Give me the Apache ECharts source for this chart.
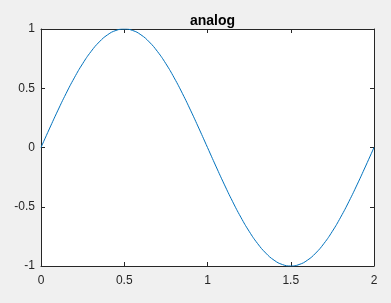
<!DOCTYPE html>
<html>
<head>
<meta charset="utf-8">
<script src="https://cdn.jsdelivr.net/npm/echarts@6/dist/echarts.min.js"></script>
<style>
html,body{margin:0;padding:0;background:#f0f0f0;}
#c{width:391px;height:303px;}
</style>
</head>
<body>
<div id="c"></div>
<script>
const titleText = "analog";
const xTicks = [0, 0.5, 1, 1.5, 2];
const yTicks = [-1, -0.5, 0, 0.5, 1];
const t = [0,0.05,0.1,0.15,0.2,0.25,0.3,0.35,0.4,0.45,
0.5,0.55,0.6,0.65,0.7,0.75,0.8,0.85,0.9,0.95,
1,1.05,1.1,1.15,1.2,1.25,1.3,1.35,1.4,1.45,
1.5,1.55,1.6,1.65,1.7,1.75,1.8,1.85,1.9,1.95,2];
const y = [0,0.1564,0.309,0.454,0.5878,0.7071,0.809,0.891,0.9511,0.9877,
1,0.9877,0.9511,0.891,0.809,0.7071,0.5878,0.454,0.309,0.1564,
0,-0.1564,-0.309,-0.454,-0.5878,-0.7071,-0.809,-0.891,-0.9511,-0.9877,
-1,-0.9877,-0.9511,-0.891,-0.809,-0.7071,-0.5878,-0.454,-0.309,-0.1564,0];

const data = t.map((v, i) => [v, y[i]]);
const ink = '#262626';
const font = 'Arial, "Liberation Sans", Helvetica, sans-serif';
const chart = echarts.init(document.getElementById('c'), null, {renderer: 'canvas'});
const baseX = {
  type: 'value', min: xTicks[0], max: xTicks[xTicks.length - 1], interval: 0.5,
  axisLine: {show: true, onZero: false, lineStyle: {color: ink, width: 1}},
  axisTick: {show: true, inside: true, length: 4, lineStyle: {color: ink}},
  splitLine: {show: false}
};
const baseY = {
  type: 'value', min: yTicks[0], max: yTicks[yTicks.length - 1], interval: 0.5,
  axisLine: {show: true, onZero: false, lineStyle: {color: ink, width: 1}},
  axisTick: {show: true, inside: true, length: 4, lineStyle: {color: ink}},
  splitLine: {show: false}
};
chart.setOption({
  backgroundColor: '#f0f0f0',
  animation: false,
  title: {
    text: titleText, left: 207.5, textAlign: 'center', top: 9,
    textStyle: {fontFamily: font, fontWeight: 'bold', fontSize: 14, color: '#000'}
  },
  grid: {left: 41, top: 29, width: 333, height: 237, show: true, backgroundColor: '#fff', borderWidth: 0},
  xAxis: [
    Object.assign({}, baseX, {position: 'bottom',
      axisLabel: {show: true, margin: 9, color: ink, fontSize: 12, fontFamily: font}}),
    Object.assign({}, baseX, {position: 'top', axisLabel: {show: false}})
  ],
  yAxis: [
    Object.assign({}, baseY, {position: 'left',
      axisLabel: {show: true, margin: 6, color: ink, fontSize: 12, fontFamily: font}}),
    Object.assign({}, baseY, {position: 'right', axisLabel: {show: false}})
  ],
  series: [{
    type: 'line', data: data, xAxisIndex: 0, yAxisIndex: 0,
    showSymbol: false, smooth: true,
    lineStyle: {color: '#0072BD', width: 1}
  }]
});
</script>
</body>
</html>
